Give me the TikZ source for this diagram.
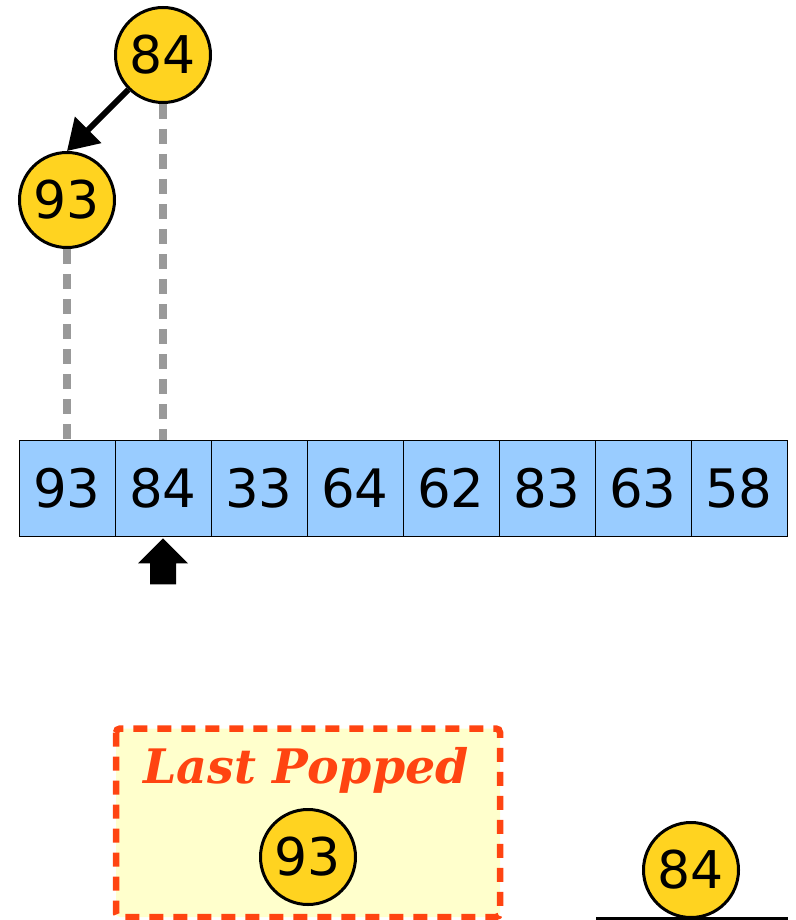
\documentclass[tikz,border=0pt]{standalone}
\usepackage{fontspec}
\setmainfont{DejaVu Sans}
\newfontfamily\poppedfont{DejaVu Serif}
\usetikzlibrary{arrows.meta}
\definecolor{heapyellow}{HTML}{FFD320}
\definecolor{cellblue}{HTML}{99CCFF}
\definecolor{popred}{HTML}{FF4411}
\definecolor{popfill}{HTML}{FFFFCC}
\definecolor{linkgray}{HTML}{999999}

\begin{document}
\begin{tikzpicture}[x=1pt,y=-1pt,
  heapnode/.style={circle,draw=black,line width=3pt,fill=heapyellow,minimum size=95pt,inner sep=0pt,font=\fontsize{52}{60}\selectfont},
  cell/.style={draw=black,line width=0.8pt,fill=cellblue,minimum size=96pt,inner sep=0pt,font=\fontsize{53}{60}\selectfont},
  link/.style={linkgray,line width=7.5pt,dash pattern=on 15pt off 10pt},
  popbox/.style={draw=popred,line width=6.5pt,dash pattern=on 14pt off 10pt,fill=popfill,rounded corners=4pt}]
  \useasboundingbox (0,0) rectangle (795,920);
  \foreach \v [count=\i] in {93,84,33,64,62,83,63,58}
    \node[cell] (c\i) at ({96*\i-29},488) {\v};
  \node[heapnode] (top) at (163,55) {84};
  \node[heapnode] (left) at (67,200) {93};
  \draw[link] (top.south) -- (c2.north);
  \draw[link] (left.south) -- (c1.north);
  \draw[line width=6pt,-{Triangle[length=30pt,width=36pt]}] (top.225) -- (left.north);
  \fill (c2.south) ++(0,2) -- ++(25,25) -- ++(-12,0) -- ++(0,21) -- ++(-26,0) -- ++(0,-21) -- ++(-12,0) -- cycle;
  \draw[popbox] (116,728.5) rectangle (500,917);
  \node[text=popred,font=\fontsize{47.5}{56}\selectfont\poppedfont\bfseries\itshape] (title) at (306,770) {Last Popped};
  \node[heapnode] (popped) at (308,857) {93};
  \node[heapnode] (last) at (691,870) {84};
  \coordinate (shelfl) at (596,918.5);
  \coordinate (shelfr) at (788,918.5);
  \draw[line width=3pt] (shelfl) -- (shelfr);
\end{tikzpicture}
\end{document}
